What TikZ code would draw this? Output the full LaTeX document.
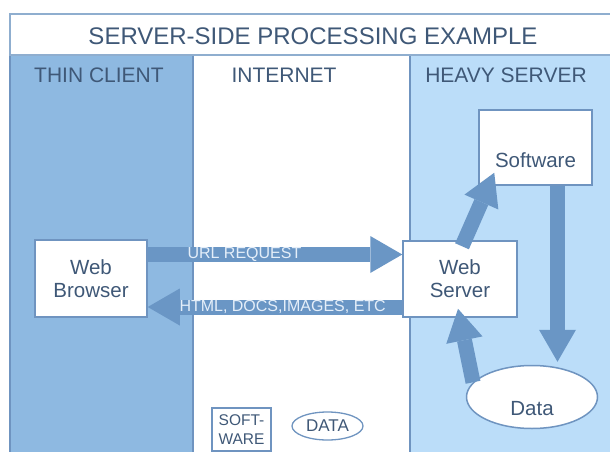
\documentclass[tikz,border=0pt]{standalone}
\usepackage{fontspec}
\setmainfont{Liberation Sans}
\usetikzlibrary{arrows.meta,shapes.geometric}
\definecolor{clientblue}{HTML}{8EB9E1}
\definecolor{serverblue}{HTML}{BBDDF9}
\definecolor{flowblue}{HTML}{6A96C5}
\definecolor{edgeblue}{HTML}{6F94C0}
\definecolor{titleedge}{HTML}{8FAECF}
\definecolor{inktext}{HTML}{3F5877}
\definecolor{tagtext}{HTML}{E4EEF9}

\begin{document}
\begin{tikzpicture}[x=1pt,y=-1pt,
  box/.style={draw=edgeblue,line width=1.5pt,fill=white,text=inktext,align=center,
    inner sep=0pt,font=\fontsize{20.5}{23}\selectfont},
  store/.style={box,ellipse},
  colhead/.style={text=inktext,font=\fontsize{21}{24}\selectfont},
  flow/.style={draw=flowblue,line width=15pt,
    -{Triangle[length=32pt 0 0,width=37pt 0 0,line width=0pt]}},
  tag/.style={text=tagtext,font=\fontsize{16}{18}\selectfont,inner sep=0pt}]
  \useasboundingbox (0,0) rectangle (610,452);
  % columns
  \foreach \xa/\xb/\c in {10/193/clientblue,193/410/white,410/620/serverblue} {
    \fill[\c] (\xa,55) rectangle (\xb,460);
  }
  \draw[edgeblue,line width=2pt] (10,460) -- (10,55) -- (620,55);
  \draw[edgeblue,line width=2pt] (193,55) -- (193,460);
  \draw[edgeblue,line width=2pt] (410,55) -- (410,460);
  % title
  \draw[titleedge,line width=1.2pt,fill=white] (10,14) rectangle (620,55);
  \node[colhead,font=\fontsize{24}{28}\selectfont] (title) at (313,36) {SERVER-SIDE PROCESSING EXAMPLE};
  \node[colhead] (thin) at (99,75) {THIN CLIENT};
  \node[colhead] (net) at (284,75) {INTERNET};
  \node[colhead] (heavy) at (506,75) {HEAVY SERVER};
  % boxes
  \node[box,minimum width=112,minimum height=77] (browser) at (91,278.5) {Web\\Browser};
  \node[box,minimum width=114,minimum height=76] (server) at (460,279) {Web\\Server};
  \node[box,minimum width=113,minimum height=75,text height=44pt,text depth=4pt]
    (software) at (535.5,147.5) {Software};
  \node[store,minimum width=131,minimum height=63,text height=38pt,text depth=1pt]
    (data) at (532,397) {Data};
  % flows
  \draw[flow] ([yshift=24pt]browser.east) -- ([yshift=24pt]browser.east -| server.west)
    node[tag,pos=0.38] {URL REQUEST};
  \draw[flow] ([yshift=-28pt]server.west) -- ([yshift=-28pt]server.west -| browser.east)
    node[tag,pos=0.47] {HTML, DOCS,IMAGES, ETC};
  \draw[flow] ([xshift=2pt,yshift=-6pt]server.north) -- ([xshift=16pt,yshift=13pt]software.south west);
  \draw[flow] ([xshift=22pt]software.south) -- ([xshift=22pt,yshift=3pt]software.south |- data.north);
  \draw[flow] (data.166) -- ([xshift=-2pt,yshift=9pt]server.south);
  % legend
  \node[box,line width=1.3pt,minimum width=59,minimum height=43,
    font=\fontsize{15.5}{19}\selectfont] (legsoft) at (241.5,429.5) {SOFT-\\WARE};
  \node[store,line width=1.3pt,minimum width=71,minimum height=28,
    font=\fontsize{17}{19}\selectfont] (legdata) at (327.5,426) {DATA};
\end{tikzpicture}
\end{document}
